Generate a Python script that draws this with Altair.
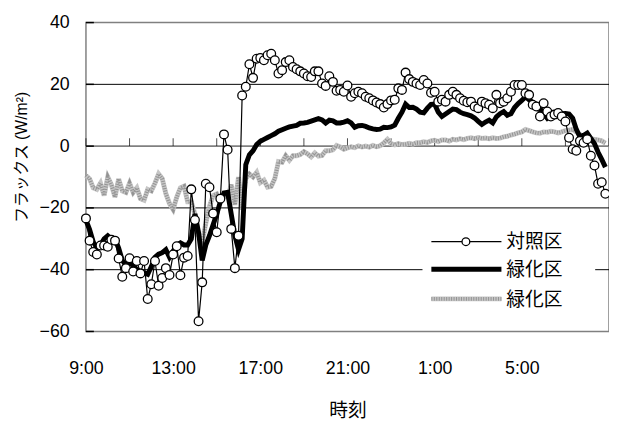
import altair as alt
import pandas as pd

# ---------------- data ----------------
series_names = ["対照区", "緑化区", "緑化区"]
x_tick_labels = ["9:00", "13:00", "17:00", "21:00", "1:00", "5:00"]
y_ticks = [-60, -40, -20, 0, 20, 40]
y_grid = [20, -20, -40]
x_title = "時刻"
y_title = "フラックス (W/m²)"

start_time = "2000-01-01 09:00"
n_points = 144  # 10-minute records

taisho = [
    -23.4, -30.6, -34.3, -35.1, -32.2, -32.2, -32.6, -30.3, -30.6, -36.4,
    -42.3, -39.5, -36.3, -40.6, -37.2, -41.2, -37.2, -49.5, -44.7, -37.2,
    -45.2, -42.7, -39.5, -41.7, -35.1, -32.4, -41.8, -36.1, -35.6, -14.0,
    -23.9, -56.7, -44.1, -12.2, -13.3, -21.8, -27.9, -17.0, 3.8, -1.2,
    -26.8, -39.5, -29.0, 16.4, 19.2, 26.5, 22.1,
    28.3, 28.5, 27.8, 29.4, 29.9, 27.8, 23.5, 24.6, 27.2, 27.8,
    25.6, 24.9, 24.2, 23.5, 22.6, 22.4, 24.2, 24.2, 20.3, 19.5,
    22.6, 20.8, 17.9, 18.2, 17.6, 19.6, 16.0, 17.1, 17.6, 17.1,
    16.0, 15.5, 14.8, 14.1, 13.6, 12.5, 13.6, 14.8, 15.0, 18.7,
    18.2, 23.8, 21.7, 20.8, 20.3, 19.8, 21.4, 20.3, 17.3,
    17.6, 14.4, 15.0, 14.4, 16.6, 17.6, 16.6, 15.5, 14.7, 14.2,
    14.4, 12.8, 12.3, 14.4, 13.9, 13.4, 12.3, 16.6, 13.9, 14.4,
    15.5, 17.6, 19.8, 19.8, 19.8, 17.1, 16.6, 13.4, 12.8, 9.6,
    13.9, 11.2, 9.6, 10.2, 10.7, 9.6, 8.0, 2.7, -1.0, -1.5,
    1.7, 1.1, 2.2, -3.1, -6.3, -12.2, -11.7, -15.4,
]

ryokka = [
    -24.0, -27.0, -31.0, -33.0, -32.0, -30.0, -29.0, -30.0, -30.0, -33.0,
    -37.0, -38.5, -37.8, -38.5, -40.0, -40.5, -41.0, -41.5, -39.0, -36.0,
    -35.0, -34.5, -33.5, -36.0, -34.0, -32.0, -31.3, -32.0, -32.0, -30.0,
    -22.0, -28.0, -37.0, -32.0, -29.0, -25.5, -22.0, -18.0, -15.2, -15.0,
    -22.0, -29.0, -33.5, -30.0, -6.0, -2.8, -1.5, 0.5, 1.6, 2.2,
    2.8, 3.4, 4.0, 4.8, 5.3, 5.8, 6.2, 6.5, 6.7, 7.4,
    7.5, 7.7, 8.1, 8.5, 8.9, 8.5, 7.5, 8.4, 8.2, 7.5,
    7.5, 7.8, 8.2, 7.5, 6.1, 6.6, 6.7, 6.4, 5.9, 5.6,
    5.4, 5.5, 6.1, 6.0, 6.2, 6.8, 9.0, 11.0, 13.6, 12.5,
    12.6, 12.0, 11.0, 10.8, 12.3, 13.5, 13.6, 11.0, 9.6, 10.4,
    11.2, 12.0, 11.8, 11.0, 10.5, 10.2, 9.8, 9.1, 8.0, 7.0,
    7.8, 8.4, 7.5, 9.5, 10.5, 11.2, 10.0, 10.5, 12.5, 13.8,
    14.8, 16.0, 15.0, 14.2, 13.5, 12.0, 10.5, 9.0, 10.0, 10.2,
    10.2, 10.5, 10.6, 10.4, 9.0, 5.4, 3.0, 3.5, 4.2, 2.5,
    0.8, -2.0, -4.3, -6.8,
]

ryokka2 = [
    -9.5, -10.6, -13.5, -14.0, -12.0, -16.0, -10.0, -12.5, -16.5, -10.6,
    -14.5, -15.0, -12.0, -15.0, -13.5, -17.0, -17.5, -14.0, -14.5, -12.0,
    -9.0, -10.5, -15.4, -18.6, -20.5, -16.5, -13.5, -13.0, -18.0, -18.0,
    -22.0, -29.0, -31.0, -25.0, -19.5, -16.0, -15.5, -18.0, -16.0, -16.5,
    -12.5, -19.0, -10.0, -20.5, -10.5, -9.0, -10.0, -8.5, -11.8, -11.0,
    -13.3, -13.0, -10.5, -5.0, -5.2, -3.1, -4.6, -3.1, -3.1, -2.7,
    -1.8, -2.5, -3.5, -2.2, -3.2, -3.0, -1.5, -1.5, -1.2, 0.2,
    -0.3, -1.0, -0.6, -0.2, -0.5, 0.1, -0.3, 0.0, -0.3, 0.2,
    -0.2, 0.1, 1.0, 2.2, 0.8, 0.4, 0.8, 0.5, 0.6, 0.9,
    0.6, 1.1, 1.1, 1.4, 1.2, 1.7, 1.9, 1.5, 2.0, 2.0,
    1.6, 2.2, 2.0, 2.4, 2.1, 2.5, 2.7, 2.4, 2.8, 2.5,
    2.6, 2.4, 2.7, 2.5, 2.6, 3.0, 3.2, 3.6, 3.9, 4.3,
    4.6, 5.4, 5.0, 4.6, 4.3, 4.2, 4.6, 4.5, 4.8, 4.6,
    4.3, 4.6, 5.0, 5.2, 5.4, 4.6, 3.8, 2.8, 2.6, 2.4,
    2.2, 2.0, 1.7, 1.0,
]

times = pd.date_range(start_time, periods=n_points, freq="10min")
df_taisho = pd.DataFrame({"time": times, "v": taisho})
df_ryokka = pd.DataFrame({"time": times, "v": ryokka})
df_ryokka2 = pd.DataFrame({"time": times, "v": ryokka2})
df_xticks = pd.DataFrame({"time": pd.date_range(start_time, periods=13, freq="2h"), "v": 0})

# ---------------- styling ----------------
NUM_FONT = "Liberation Sans, Arial, Noto Sans CJK JP"
JP_FONT = "Noto Sans CJK JP"


def label_dt(lbl):
    h = int(lbl.split(":")[0])
    return alt.DateTime(year=2000, month=1, date=1 if h >= 9 else 2, hours=h, minutes=0)


x_values = [label_dt(l) for l in x_tick_labels]
x_domain = [alt.DateTime(year=2000, month=1, date=1, hours=9),
            alt.DateTime(year=2000, month=1, date=2, hours=9)]

x_enc = alt.X(
    "time:T",
    scale=alt.Scale(domain=x_domain),
    axis=alt.Axis(
        values=x_values, format="%-H:%M", ticks=False, domain=False, grid=False,
        labelFont=NUM_FONT, labelFontSize=18, labelColor="black", labelPadding=29,
        labelFlush=False, labelOverlap=False,
        title=x_title, titleFont=JP_FONT, titleFontSize=19, titleFontWeight="normal",
        titleColor="black", titleY=80, titleBaseline="middle",
    ),
)
y_enc = alt.Y(
    "v:Q",
    scale=alt.Scale(domain=[-60, 40], nice=False, zero=False),
    axis=alt.Axis(
        values=y_ticks, grid=False, ticks=False, domain=False,
        labelFont=NUM_FONT, labelFontSize=18, labelColor="black", labelPadding=17,
        title=y_title, titleFont=NUM_FONT, titleFontSize=16, titleFontWeight="normal",
        titleColor="black", titleX=-65, titleY=136, titleAngle=270,
        titleAlign="center", titleBaseline="middle",
    ),
)

grid = alt.Chart(pd.DataFrame({"v": y_grid})).mark_rule(color="black", strokeWidth=1).encode(y=y_enc)
zero_line = alt.Chart(pd.DataFrame({"v": [0]})).mark_rule(color="#808080", strokeWidth=1.6).encode(y=y_enc)
y_tick_marks = alt.Chart(pd.DataFrame({"v": y_ticks})).mark_rule(color="black", strokeWidth=1.5).encode(
    y=y_enc, x=alt.value(0), x2=alt.value(8))
x_tick_marks = alt.Chart(df_xticks).mark_tick(
    orient="vertical", size=8, thickness=1, color="black", yOffset=-4).encode(x=x_enc, y=y_enc)

gray_base = alt.Chart(df_ryokka2).mark_line(color="#c6c6c6", strokeWidth=5).encode(x=x_enc, y=y_enc)
gray_tex = alt.Chart(df_ryokka2).mark_line(
    color="#939393", strokeWidth=4, strokeDash=[1, 1.5]).encode(x=x_enc, y=y_enc)
black_line = alt.Chart(df_ryokka).mark_line(color="black", strokeWidth=5).encode(x=x_enc, y=y_enc)
ctrl_line = alt.Chart(df_taisho).mark_line(color="black", strokeWidth=1.2).encode(x=x_enc, y=y_enc)
ctrl_pts = alt.Chart(df_taisho).mark_circle(
    size=78, fill="white", stroke="black", strokeWidth=1.3, opacity=1).encode(x=x_enc, y=y_enc)

# ---------------- legend (drawn by hand) ----------------
one = pd.DataFrame({"k": [0]})
leg_box = alt.Chart(one).mark_rect(fill="white").encode(
    x=alt.value(341), x2=alt.value(516), y=alt.value(206), y2=alt.value(298))
leg_l1 = alt.Chart(one).mark_rule(color="black", strokeWidth=1.2).encode(
    x=alt.value(350), x2=alt.value(421), y=alt.value(222))
leg_p1 = alt.Chart(one).mark_circle(
    size=62, fill="white", stroke="black", strokeWidth=1.3, opacity=1).encode(
    x=alt.value(385), y=alt.value(222))
leg_l2 = alt.Chart(one).mark_rule(color="black", strokeWidth=5).encode(
    x=alt.value(350), x2=alt.value(421), y=alt.value(250))
leg_l3a = alt.Chart(one).mark_rule(color="#c6c6c6", strokeWidth=5).encode(
    x=alt.value(350), x2=alt.value(421), y=alt.value(280))
leg_l3b = alt.Chart(one).mark_rule(color="#939393", strokeWidth=4, strokeDash=[1, 1.5]).encode(
    x=alt.value(350), x2=alt.value(421), y=alt.value(280))
leg_texts = []
for name, ypos in zip(series_names, [222, 251, 281]):
    leg_texts.append(
        alt.Chart(pd.DataFrame({"label": [name]})).mark_text(
            align="left", baseline="middle", font=JP_FONT, fontSize=19, color="black").encode(
            x=alt.value(426), y=alt.value(ypos), text="label:N"))

chart = alt.layer(
    grid, zero_line, x_tick_marks, y_tick_marks,
    gray_base, gray_tex, black_line, ctrl_line, ctrl_pts,
    leg_box, leg_l1, leg_p1, leg_l2, leg_l3a, leg_l3b, *leg_texts,
).properties(
    width=530, height=313,
    padding={"left": 79, "top": 12, "right": 0, "bottom": 90},
    autosize=alt.AutoSizeParams(type="none"),
    background="white",
).configure_view(stroke="#808080", strokeWidth=1.5)

chart.save("out.html", embed_options={"renderer": "svg", "actions": False})
